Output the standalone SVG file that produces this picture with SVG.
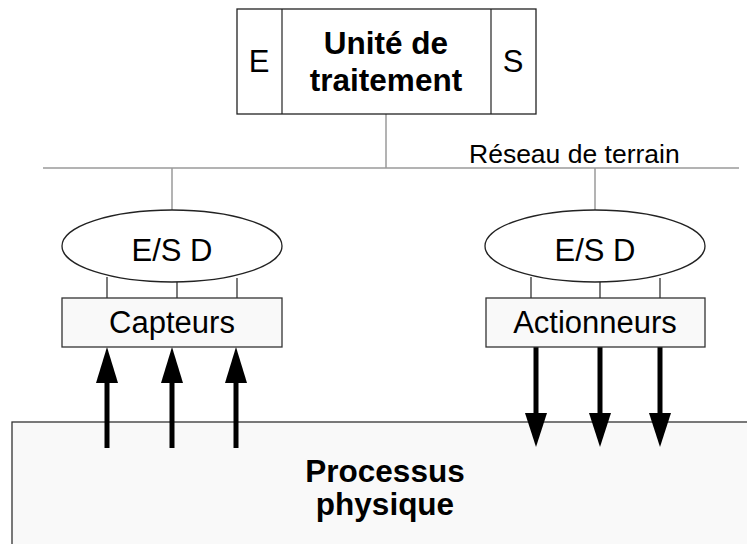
<svg xmlns="http://www.w3.org/2000/svg" width="747" height="544" viewBox="0 0 747 544">
<style>
.box{fill:#ffffff;stroke:#222;stroke-width:1.3}
.lbox{fill:#f9f9f9;stroke:#333;stroke-width:1.3}
.net{stroke:#9a9a9a;stroke-width:1.5;fill:none}
.thin{stroke:#222;stroke-width:1.2;fill:none}
.shaft{stroke:#000;stroke-width:5;fill:none}
.head{fill:#000}
text{font-family:"Liberation Sans",Arial,sans-serif;fill:#000}
.b{font-weight:bold;font-size:31.5px}
.n{font-size:31px}
.s{font-size:26.5px}
</style>
<g id="processus">
<rect x="12" y="422" width="760" height="140" class="lbox"/>
<text class="b" x="385" y="482" text-anchor="middle">Processus</text>
<text class="b" x="385" y="515" text-anchor="middle">physique</text>
</g>
<g id="connectors">
<line class="net" x1="43" y1="168" x2="739" y2="168"/>
<line class="net" x1="386" y1="114" x2="386" y2="168"/>
<line class="net" x1="172" y1="168" x2="172" y2="210"/>
<line class="net" x1="595" y1="168" x2="595" y2="210"/>
<line class="thin" x1="107" y1="277" x2="107" y2="298"/>
<line class="thin" x1="177" y1="280" x2="177" y2="298"/>
<line class="thin" x1="237" y1="278" x2="237" y2="298"/>
<line class="thin" x1="531" y1="277" x2="531" y2="298"/>
<line class="thin" x1="600" y1="280" x2="600" y2="298"/>
<line class="thin" x1="660" y1="278" x2="660" y2="298"/>
<line class="shaft" x1="107" y1="448" x2="107" y2="380"/>
<polygon class="head" points="107,347 96,383 118,383"/>
<line class="shaft" x1="172" y1="448" x2="172" y2="380"/>
<polygon class="head" points="172,347 161,383 183,383"/>
<line class="shaft" x1="236" y1="448" x2="236" y2="380"/>
<polygon class="head" points="236,347 225,383 247,383"/>
<line class="shaft" x1="536" y1="347" x2="536" y2="416"/>
<polygon class="head" points="536,447 525,413 547,413"/>
<line class="shaft" x1="600" y1="347" x2="600" y2="416"/>
<polygon class="head" points="600,447 589,413 611,413"/>
<line class="shaft" x1="660" y1="347" x2="660" y2="416"/>
<polygon class="head" points="660,447 649,413 671,413"/>
</g>
<g id="unite">
<rect x="237" y="9" width="299" height="105" class="box"/>
<line class="thin" x1="282" y1="9" x2="282" y2="114"/>
<line class="thin" x1="491" y1="9" x2="491" y2="114"/>
<text class="b" x="386" y="54" text-anchor="middle">Unité de</text>
<text class="b" x="386" y="91" text-anchor="middle">traitement</text>
<text class="n" x="259" y="72" text-anchor="middle">E</text>
<text class="n" x="513" y="72" text-anchor="middle">S</text>
</g>
<g id="reseau">
<text class="s" x="469" y="163">Réseau de terrain</text>
</g>
<g id="esd-gauche">
<ellipse cx="172" cy="246" rx="110" ry="36" class="box"/>
<text class="n" x="172" y="261" text-anchor="middle">E/S D</text>
</g>
<g id="esd-droite">
<ellipse cx="595" cy="246" rx="110" ry="36" class="box"/>
<text class="n" x="595" y="261" text-anchor="middle">E/S D</text>
</g>
<g id="capteurs">
<rect x="62" y="298" width="220" height="49" class="lbox"/>
<text class="n" x="172" y="333" text-anchor="middle">Capteurs</text>
</g>
<g id="actionneurs">
<rect x="486" y="298" width="219" height="49" class="lbox"/>
<text class="n" x="595" y="333" text-anchor="middle">Actionneurs</text>
</g>
</svg>
